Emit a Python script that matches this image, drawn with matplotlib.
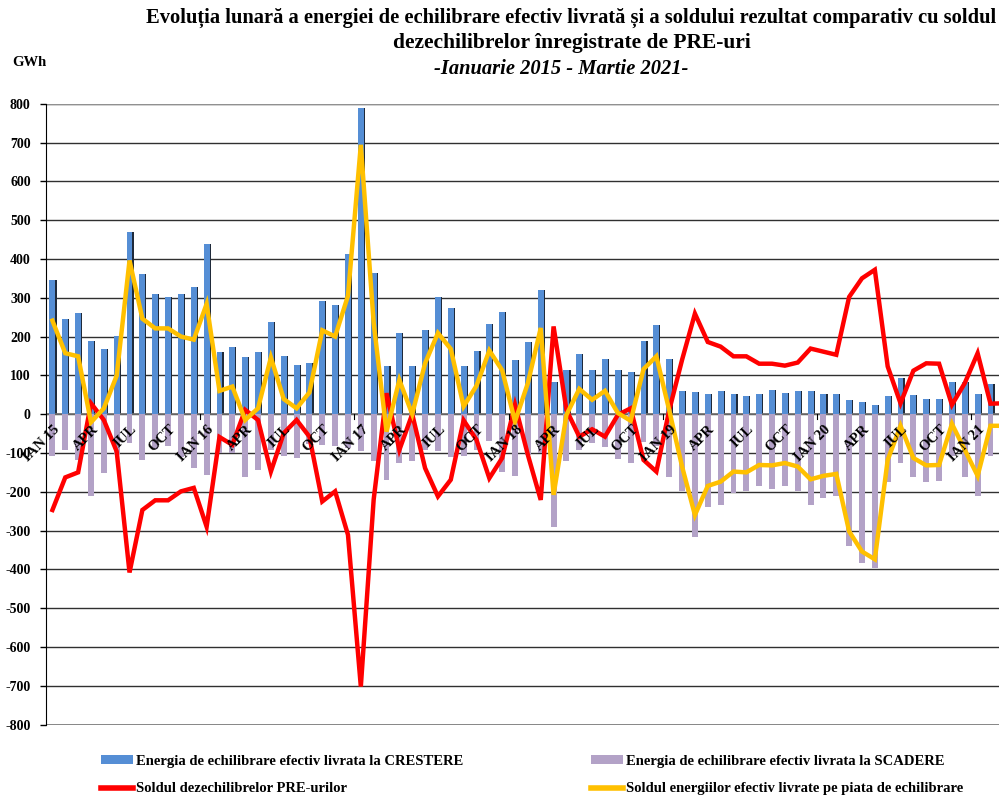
import numpy as np
import matplotlib.pyplot as plt
from matplotlib.patches import Patch
from matplotlib.lines import Line2D

plt.rcParams['font.family'] = ['Liberation Serif', 'DejaVu Serif']
plt.rcParams['font.weight'] = 'bold'
plt.rcParams['axes.unicode_minus'] = False

# === Data (GWh), Jan 2015 - Mar 2021 ===
months = ["IAN", "FEB", "MAR", "APR", "MAI", "IUN", "IUL", "AUG", "SEP", "OCT", "NOI", "DEC"]
years = ["15", "16", "17", "18", "19", "20", "21"]

crestere = [346, 246, 261, 189, 168, 202, 470, 360, 310, 301, 310, 328,
            439, 161, 172, 146, 161, 238, 149, 127, 133, 292, 282, 413,
            789, 364, 123, 209, 123, 216, 302, 273, 125, 163, 233, 262,
            140, 185, 321, 83, 114, 156, 114, 143, 114, 109, 189, 230,
            143, 60, 58, 52, 60, 52, 47, 52, 63, 55, 60, 60,
            52, 52, 37, 32, 24, 47, 94, 50, 40, 40, 83, 83,
            52, 78, 80]

scadere = [-107, -92, -118, -212, -152, -102, -75, -118, -90, -83, -110, -139,
           -156, -101, -101, -161, -144, -92, -109, -113, -77, -79, -82, -88,
           -96, -122, -169, -125, -122, -92, -96, -111, -109, -92, -70, -150,
           -159, -105, -99, -290, -122, -92, -75, -85, -116, -126, -73, -81,
           -162, -199, -317, -238, -235, -204, -199, -185, -193, -185, -197, -234,
           -215, -210, -339, -384, -397, -174, -125, -163, -174, -171, -108, -163,
           -212, -109, -110]

sold_pre = [-247, -163, -150, 28, -15, -96, -408, -247, -222, -222, -199, -190,
            -290, -59, -79, 11, -15, -148, -49, -15, -58, -225, -199, -311,
            -702, -220, 54, -92, 0, -139, -212, -169, -16, -66, -165, -113,
            24, -105, -221, 226, 11, -58, -39, -58, -2, 15, -118, -148,
            10, 140, 259, 186, 174, 149, 149, 130, 130, 125, 133, 169,
            161, 153, 302, 350, 372, 123, 28, 112, 131, 130, 24, 80,
            157, 27, 28]

sold_livrat = [241, 157, 149, -21, 15, 99, 396, 246, 221, 221, 200, 192,
               284, 60, 71, -15, 15, 146, 39, 15, 56, 216, 200, 305,
               694, 235, -45, 88, 0, 131, 209, 168, 20, 73, 164, 113,
               -19, 80, 222, -208, -2, 65, 37, 60, 3, -17, 116, 149,
               10, -135, -260, -185, -174, -148, -150, -131, -132, -126, -135, -168,
               -159, -154, -302, -354, -374, -118, -30, -113, -132, -131, -25, -92,
               -159, -30, -30]

n = len(crestere)
x = np.arange(n)

fig = plt.figure(figsize=(9.99, 7.96), dpi=100)
ax = fig.add_axes([46 / 999, 1 - 724.6 / 796, 75 * 12.85 / 999, (724.6 - 103.7) / 796])

# bars (blue with a dark shadow on the right, purple below zero)
w = 0.46
ax.bar(x + 0.09, crestere, width=w, color="#1f2a3a", zorder=2)
ax.bar(x, crestere, width=w, color="#558ED5", zorder=3)
ax.bar(x, scadere, width=w, color="#B3A2C7", zorder=3)

# lines
ax.plot(x, sold_pre, color="#FF0000", lw=3.2, zorder=4, solid_joinstyle="miter")
ax.plot(x, sold_livrat, color="#FFC000", lw=3.2, zorder=5, solid_joinstyle="miter")

ax.set_xlim(-0.5, n - 0.5)
ax.set_ylim(-800, 800)
ax.set_yticks(np.arange(-800, 801, 100))
ax.tick_params(axis="y", labelsize=10, length=4, width=1, pad=7)
for lab in ax.get_yticklabels():
    lab.set_fontweight("bold")
ax.yaxis.grid(True, color="#303030", lw=1.0)
ax.set_axisbelow(True)

for s in ["top", "right", "bottom"]:
    ax.spines[s].set_visible(False)
ax.spines["left"].set_color("black")
ax.axhline(0, color="#707070", lw=1.2, zorder=2.5)
ax.axhline(-800, color="#808080", lw=2, zorder=1)
ax.axhline(800, color="#909090", lw=1.5, zorder=1)

# category labels every 3 months, drawn at the zero line
ax.set_xticks([])
for i in range(0, n, 3):
    m = i % 12
    lab = months[m]
    if m == 0:
        lab = "IAN " + years[i // 12]
    ax.text(i + 0.05, -22, lab, rotation=45, ha="right", va="top",
            rotation_mode="anchor", fontsize=10.5, fontweight="bold", zorder=6)
for i in range(12, n, 12):
    ax.plot([i - 0.5, i - 0.5], [0, -12], color="black", lw=0.8, zorder=6)

# titles
fig.text(571 / 999, 1 - 18 / 796, "Evoluția lunară a energiei de echilibrare efectiv livrată și a soldului rezultat comparativ cu soldul",
         ha="center", va="center", fontsize=14.8, fontweight="bold")
fig.text(572 / 999, 1 - 43 / 796, "dezechilibrelor înregistrate de PRE-uri",
         ha="center", va="center", fontsize=15.5, fontweight="bold")
fig.text(561 / 999, 1 - 69 / 796, "-Ianuarie 2015 - Martie 2021-",
         ha="center", va="center", fontsize=14.8, fontweight="bold", style="italic")
fig.text(12 / 999, 1 - 62 / 796, "GWh", ha="left", va="center", fontsize=10.5, fontweight="bold")

# legend
h1 = [Patch(facecolor="#558ED5"), Line2D([0], [0], color="#FF0000", lw=4)]
h2 = [Patch(facecolor="#B3A2C7"), Line2D([0], [0], color="#FFC000", lw=4)]
l1 = ["Energia de echilibrare efectiv livrata la CRESTERE", "Soldul dezechilibrelor PRE-urilor"]
l2 = ["Energia de echilibrare efectiv livrata la SCADERE", "Soldul energiilor efectiv livrate pe piata de echilibrare"]
kw = dict(frameon=False, handlelength=2.2, handleheight=0.6, handletextpad=0.2,
          labelspacing=1.0, borderaxespad=0, prop={"weight": "bold", "size": 10.5})
fig.legend(h1, l1, loc="upper left", bbox_to_anchor=(95 / 999, 1 - 749 / 796), **kw)
fig.legend(h2, l2, loc="upper left", bbox_to_anchor=(585 / 999, 1 - 749 / 796), **kw)

fig.savefig("out.png", dpi=100)
